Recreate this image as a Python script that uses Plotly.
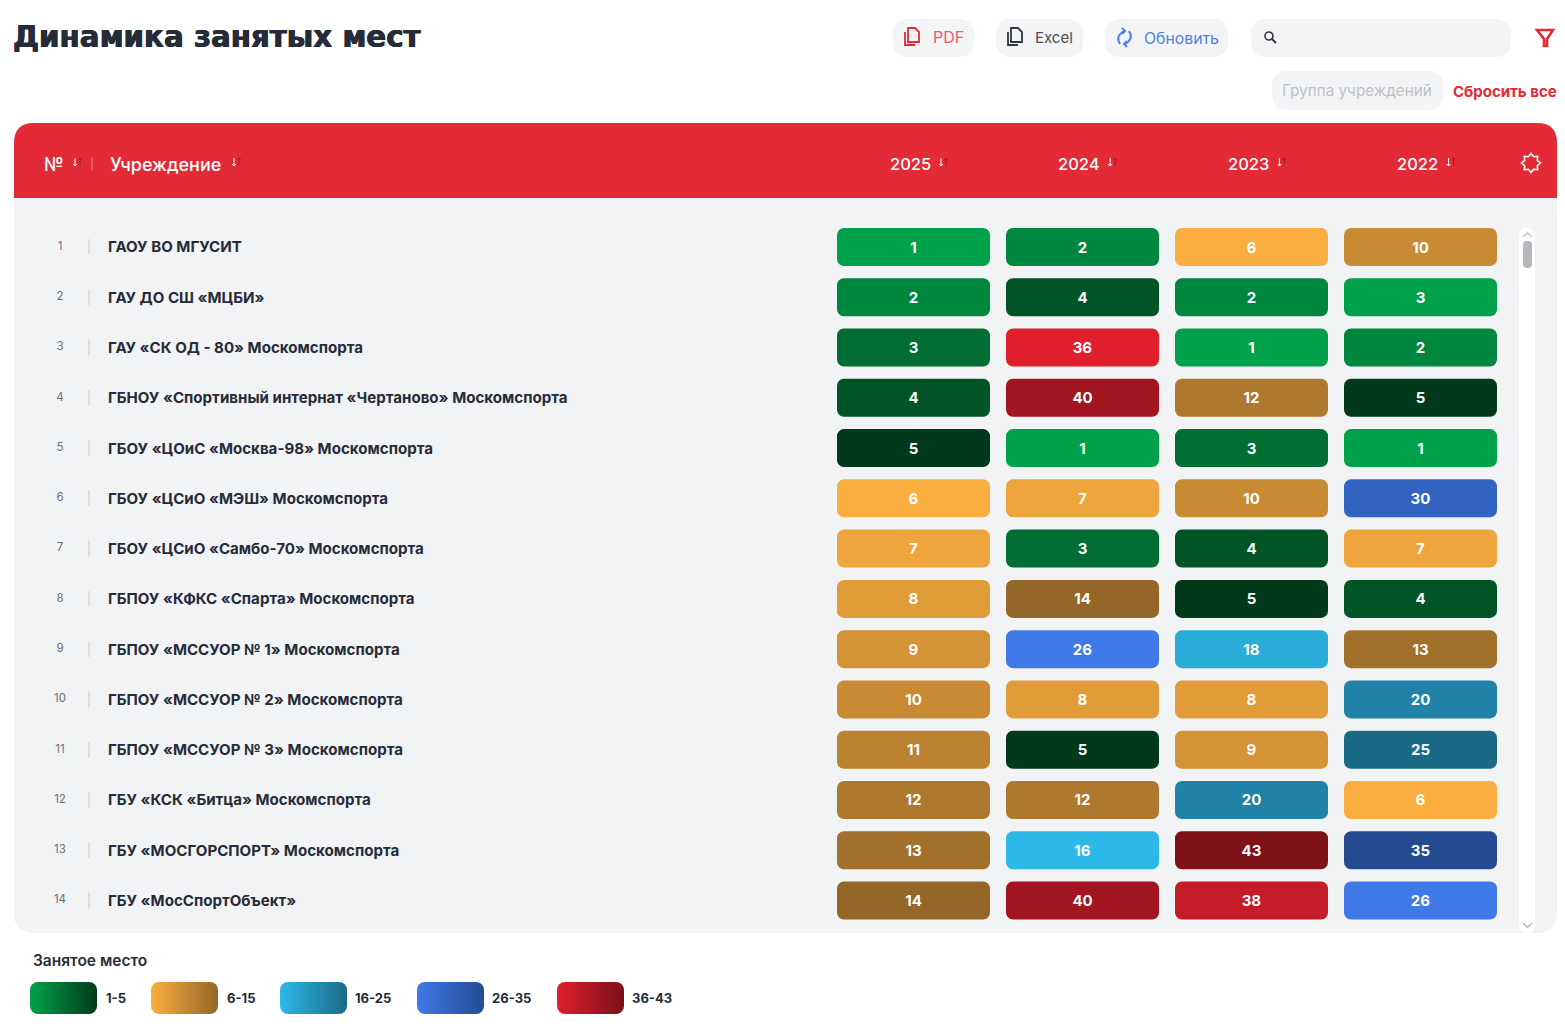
import base64
import math
import plotly.graph_objects as go

# Table data
institutions = [
    "ГАОУ ВО МГУСИТ",
    "ГАУ ДО СШ «МЦБИ»",
    "ГАУ «СК ОД - 80» Москомспорта",
    "ГБНОУ «Спортивный интернат «Чертаново» Москомспорта",
    "ГБОУ «ЦОиС «Москва-98» Москомспорта",
    "ГБОУ «ЦСиО «МЭШ» Москомспорта",
    "ГБОУ «ЦСиО «Самбо-70» Москомспорта",
    "ГБПОУ «КФКС «Спарта» Москомспорта",
    "ГБПОУ «МССУОР № 1» Москомспорта",
    "ГБПОУ «МССУОР № 2» Москомспорта",
    "ГБПОУ «МССУОР № 3» Москомспорта",
    "ГБУ «КСК «Битца» Москомспорта",
    "ГБУ «МОСГОРСПОРТ» Москомспорта",
    "ГБУ «МосСпортОбъект»",
]
row_numbers = [1, 2, 3, 4, 5, 6, 7, 8, 9, 10, 11, 12, 13, 14]
years = ["2025", "2024", "2023", "2022"]
places_2025 = [1, 2, 3, 4, 5, 6, 7, 8, 9, 10, 11, 12, 13, 14]
places_2024 = [2, 4, 36, 40, 1, 7, 3, 14, 26, 8, 5, 12, 16, 40]
places_2023 = [6, 2, 1, 12, 3, 10, 4, 5, 18, 8, 9, 20, 43, 38]
places_2022 = [10, 3, 2, 5, 1, 30, 7, 4, 13, 20, 25, 6, 35, 26]
places_by_year = [places_2025, places_2024, places_2023, places_2022]

# The "3" in the second row of 2022 is painted like a first place in the original
shades_2022 = [10, 1, 2, 5, 1, 30, 7, 4, 13, 20, 25, 6, 35, 26]
shades_by_year = [places_2025, places_2024, places_2023, shades_2022]

legend_labels = ["1-5", "6-15", "16-25", "26-35", "36-43"]
legend_colors = [
    ("#00A14B", "#003A1A"),
    ("#FBAE40", "#946728"),
    ("#2DB9E8", "#1A6A87"),
    ("#4079E8", "#254A91"),
    ("#E01F2E", "#7A1018"),
]

# Colour stops by place, read from the cells
scale_places = [1, 5, 6, 14, 16, 18, 20, 25, 26, 35, 36, 38, 40, 43]
scale_colors = ["#00A14B", "#003A1A", "#FBAE40", "#946728", "#2DB9E8", "#29ADD8", "#1F82A6", "#1A6A87",
                "#4079E8", "#254A91", "#E01F2E", "#C41C28", "#A01520", "#7E1218"]

W, H = 1565, 1033
FONT = "Inter"
WIDE = "DejaVu Sans"
DARK = "#262B38"
RED = "#E42A37"
PANEL = "#F2F3F5"

colorscale = [[(p - 1) / 42, c] for p, c in zip(scale_places, scale_colors)]

fig = go.Figure()

# Coloured cells
bar_w = 153 / 169
for i, year in enumerate(years):
    fig.add_trace(go.Bar(
        orientation="h",
        y=institutions,
        x=[bar_w] * len(institutions),
        base=i - bar_w / 2,
        width=38 / 50.27,
        xaxis="x2",
        yaxis="y2",
        name=year,
        text=places_by_year[i],
        textposition="inside",
        insidetextanchor="middle",
        textangle=0,
        constraintext="none",
        insidetextfont=dict(family=FONT, size=15, color="white", weight=700),
        marker=dict(
            color=shades_by_year[i],
            colorscale=colorscale,
            cmin=1,
            cmax=43,
            cornerradius=7,
            line=dict(width=0),
        ),
        showlegend=False,
        hoverinfo="skip",
    ))

# Row number and separator columns share the category axis of the cells
n = len(institutions)
fig.add_trace(go.Scatter(
    x=[60] * n, y=institutions, xaxis="x", yaxis="y2", mode="text",
    text=row_numbers, textposition="middle center",
    textfont=dict(family=FONT, size=11.5, color="#6A6E78"),
    showlegend=False, hoverinfo="skip",
))
fig.add_trace(go.Scatter(
    x=[89] * n, y=institutions, xaxis="x", yaxis="y2", mode="markers",
    marker=dict(symbol="line-ns", size=11, line=dict(width=1, color="#C6C8CC")),
    showlegend=False, hoverinfo="skip",
))

shapes = []
images = []
annotations = []


def rrect(x0, y0, x1, y1, r):
    return (f"M{x0+r},{y0} L{x1-r},{y0} Q{x1},{y0} {x1},{y0+r} L{x1},{y1-r} Q{x1},{y1} {x1-r},{y1} "
            f"L{x0+r},{y1} Q{x0},{y1} {x0},{y1-r} L{x0},{y0+r} Q{x0},{y0} {x0+r},{y0} Z")


def add_fill(path, color):
    shapes.append(dict(type="path", path=path, xref="x", yref="y", fillcolor=color,
                       line=dict(width=0), layer="below"))


def add_stroke(path, color, width=1.5):
    shapes.append(dict(type="path", path=path, xref="x", yref="y",
                       line=dict(width=width, color=color), layer="below"))


def add_text(x, y, text, size=15, color=DARK, weight=400, anchor="left", family=FONT, shadow=None):
    font = dict(family=family, size=size, color=color, weight=weight)
    if shadow:
        font["shadow"] = shadow
    annotations.append(dict(x=x, y=y, xref="x", yref="y", text=text, showarrow=False,
                            xanchor=anchor, yanchor="middle", borderpad=0, font=font))


def doc_icon(x, y, color):
    add_stroke(f"M{x+3},{y-9} L{x+10},{y-9} L{x+14},{y-5} L{x+14},{y+5} L{x+3},{y+5} Z", color, 1.8)
    add_stroke(f"M{x},{y-5} L{x},{y+8} L{x+10},{y+8}", color, 1.8)


def sort_arrows(x, y):
    add_stroke(f"M{x},{y-5} L{x},{y+3} M{x-2},{y+1} L{x},{y+3} L{x+2},{y+1}", "white", 1)
    add_stroke(f"M{x+5},{y+3} L{x+5},{y-5} M{x+3},{y-3} L{x+5},{y-5} L{x+7},{y-3}", "#A81C26", 1)


# Institution names, placed on the category axis
for name in institutions:
    annotations.append(dict(x=107, y=name, xref="x", yref="y2", text=name, showarrow=False,
                            xanchor="left", yanchor="middle", borderpad=0,
                            font=dict(family=FONT, size=15.1, color=DARK, weight=700)))

# Panel and red header
add_fill(rrect(14, 123, 1557, 933, 20), PANEL)
add_fill("M14,198 L14,143 Q14,123 34,123 L1537,123 Q1557,123 1557,143 L1557,198 Z", RED)

# Scroll bar
add_fill(rrect(1519, 228, 1535, 933, 8), "#FFFFFF")
add_fill(rrect(1523, 241, 1532, 268, 4), "#B4B7BC")
add_stroke("M1523,237 L1527.5,232.5 L1532,237", "#C4C6CA", 1.5)
add_stroke("M1523,923 L1527.5,927.5 L1532,923", "#B4B7BC", 1.5)

# Toolbar
for x0, y0, x1, y1 in [(893, 19, 974, 57), (996, 19, 1083, 57), (1105, 19, 1228, 57),
                       (1251, 19, 1511, 57), (1272, 71, 1443, 110)]:
    add_fill(rrect(x0, y0, x1, y1, 16), "#F3F4F6")

doc_icon(905, 37, "#E42A37")
doc_icon(1008, 37, "#33363F")
add_text(932, 37, "PDF", 16, "#EE5A64")
add_text(1034, 37, "Excel", 15, "#4A4D55")
add_text(1143, 38, "Обновить", 15.8, "#4F7FEA")
add_text(1281, 90, "Группа учреждений", 15.3, "#BDBFC3")
add_text(1452, 91, "Сбросить все", 15, "#E42A37", 700)

# Refresh icon
add_stroke("M1120,44 Q1115,36 1124,31 M1122,28 L1125,31 L1122,34", "#4F7FEA", 2)
add_stroke("M1129,31 Q1134,39 1125,44 M1127,47 L1124,44 L1127,41", "#4F7FEA", 2)

# Search icon
shapes.append(dict(type="circle", x0=1265, y0=32, x1=1273, y1=40, xref="x", yref="y",
                   line=dict(width=1.6, color="#33363F"), layer="below"))
add_stroke("M1272,39 L1276,43", "#33363F", 2)

# Filter funnel
add_stroke("M1537,30 L1553,30 L1547,39 L1547,46 L1544,46 L1544,39 Z", "#E42A37", 2.6)

# Title and header labels
add_text(12, 37, "Динамика занятых мест", 29.3, DARK, 700, family=WIDE,
         shadow=f"0.5px 0 0 {DARK}, -0.5px 0 0 {DARK}")
add_text(43, 164, "№", 18, "white", 500)
sort_arrows(75, 163)
shapes.append(dict(type="line", x0=92, x1=92, y0=157, y1=170, xref="x", yref="y",
                   line=dict(width=1, color="#EE7C84"), layer="below"))
add_text(109, 164, "Учреждение", 18, "white", 500)
sort_arrows(234, 163)
for i, year in enumerate(years):
    cx = 910 + 169.2 * i
    add_text(cx, 164, year, 16.5, "white", 500, "center")
    sort_arrows(cx + 31, 163)

# Settings gear
gear = []
for k in range(16):
    a = math.pi * k / 8
    r = 9.5 if k % 2 == 0 else 6.8
    gear.append(f"{1531 + r * math.cos(a):.1f},{163 + r * math.sin(a):.1f}")
add_stroke("M" + " L".join(gear) + " Z", "white", 1.6)

# Legend
add_text(32, 960, "Занятое место", 15.5, DARK, 600)
swatch_x = [30, 151, 280, 417, 557]
label_x = [105, 226, 354, 491, 631]
for x0, lx, lab, (c0, c1) in zip(swatch_x, label_x, legend_labels, legend_colors):
    svg = (f'<svg xmlns="http://www.w3.org/2000/svg" width="67" height="32">'
           f'<defs><linearGradient id="g"><stop offset="0" stop-color="{c0}"/>'
           f'<stop offset="1" stop-color="{c1}"/></linearGradient></defs>'
           f'<rect width="67" height="32" rx="8" fill="url(#g)"/></svg>')
    uri = "data:image/svg+xml;base64," + base64.b64encode(svg.encode()).decode()
    images.append(dict(source=uri, xref="x", yref="y", x=x0, y=982, sizex=67, sizey=32,
                       sizing="stretch", xanchor="left", yanchor="top", layer="below"))
    add_text(lx, 998, lab, 13, DARK, 700)

fig.update_layout(
    width=W,
    height=H,
    margin=dict(l=0, r=0, t=0, b=0),
    paper_bgcolor="white",
    plot_bgcolor="rgba(0,0,0,0)",
    barmode="overlay",
    shapes=shapes,
    images=images,
    annotations=annotations,
    # Pixel axes for the page furniture around the table
    xaxis=dict(domain=[0, 1], range=[0, W], visible=False, fixedrange=True, anchor="y"),
    yaxis=dict(domain=[0, 1], range=[H, 0], visible=False, fixedrange=True, anchor="x"),
    xaxis2=dict(domain=[829 / W, 1505 / W], range=[-0.5, 3.5], visible=False, fixedrange=True,
                anchor="y2"),
    yaxis2=dict(domain=[1 - 925.63 / H, 1 - 221.87 / H], type="category",
                categoryorder="array", categoryarray=institutions,
                range=[13.5, -0.5], visible=False, fixedrange=True, anchor="x2"),
)

fig.write_html("out.html", config={"displayModeBar": False},
               post_script="document.body.style.margin='0';")
